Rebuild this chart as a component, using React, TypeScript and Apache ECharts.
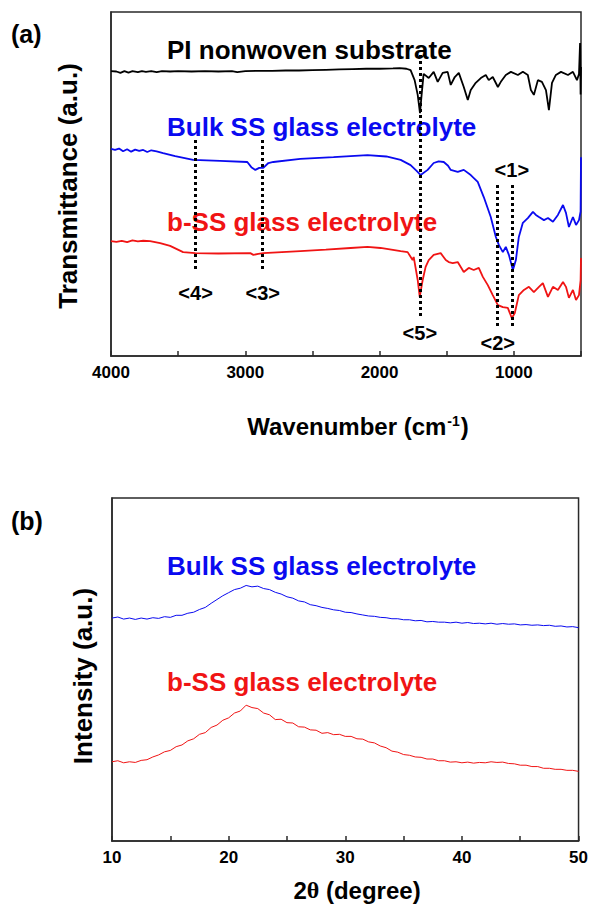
import React, { useEffect, useRef } from 'react';
import * as echarts from 'echarts';

// ---------- DATA ----------
// FTIR (a): [wavenumber (cm-1), transmittance (a.u.)]
const piSpectrum: [number, number][] = [
  [4000, 82.8], [3960, 82.7], [3930, 82.3], [3900, 82.8], [3870, 82.4], [3840, 82.8], [3800, 82.5],
  [3770, 82.8], [3740, 82.6], [3700, 82.8], [3660, 82.5], [3620, 82.8], [3560, 82.7], [3500, 82.8],
  [3400, 82.7], [3300, 82.8], [3200, 82.7], [3100, 82.8], [3060, 82.5], [3000, 82.8], [2900, 82.9],
  [2800, 82.9], [2700, 83.0], [2600, 83.0], [2500, 83.1], [2400, 83.2], [2300, 83.3], [2200, 83.4],
  [2100, 83.5], [2000, 83.5], [1900, 83.6], [1850, 83.7], [1800, 83.5], [1769, 83.1], [1739, 80.2],
  [1716, 75.9], [1699, 70.6], [1687, 75.9], [1672, 82.0], [1634, 80.8], [1597, 82.6], [1567, 79.7],
  [1530, 82.3], [1493, 82.6], [1470, 78.8], [1440, 81.1], [1410, 82.3], [1373, 78.2], [1343, 74.4],
  [1321, 77.3], [1284, 79.4], [1246, 80.8], [1209, 81.7], [1187, 80.2], [1157, 81.1], [1119, 78.2],
  [1097, 79.7], [1060, 81.7], [1022, 82.6], [970, 81.7], [933, 82.6], [896, 81.7], [873, 77.3],
  [851, 75.9], [821, 80.2], [791, 79.7], [761, 77.3], [739, 71.5], [716, 79.4], [687, 81.7],
  [649, 82.6], [597, 81.7], [560, 82.6], [530, 80.2], [515, 82.0], [507, 91.0], [503, 76.0], [500, 84.0],
];
const bulkSpectrum: [number, number][] = [
  [4000, 60.2], [3970, 59.9], [3940, 60.3], [3910, 59.5], [3880, 60.1], [3850, 59.4], [3820, 60.0],
  [3790, 59.6], [3760, 59.9], [3730, 59.3], [3700, 59.8], [3660, 59.5], [3612, 59.0], [3522, 58.1],
  [3388, 57.0], [3187, 56.7], [2985, 56.4], [2955, 54.9], [2925, 54.1], [2896, 54.7], [2866, 54.7],
  [2828, 56.1], [2791, 56.4], [2590, 57.3], [2343, 57.8], [2090, 58.4], [1950, 58.0], [1843, 57.0],
  [1769, 55.5], [1724, 53.8], [1694, 52.6], [1642, 54.1], [1597, 56.1], [1560, 56.6], [1522, 56.4],
  [1490, 55.3], [1470, 54.1], [1418, 53.5], [1373, 54.1], [1321, 52.6], [1269, 50.6], [1224, 46.2],
  [1172, 40.4], [1134, 34.6], [1112, 32.3], [1082, 30.2], [1060, 31.7], [1037, 29.4], [1007, 25.0],
  [985, 27.9], [963, 34.6], [933, 38.7], [896, 40.1], [858, 41.9], [836, 41.0], [813, 40.4],
  [776, 39.5], [746, 40.1], [709, 39.0], [672, 41.0], [634, 43.9], [612, 41.6], [590, 37.5],
  [560, 40.4], [537, 38.1], [515, 39.5], [503, 42.0], [500, 57.8],
];
const bssSpectrum: [number, number][] = [
  [4000, 33.4], [3960, 33.2], [3920, 33.5], [3880, 33.1], [3840, 33.6], [3800, 33.3], [3760, 33.5],
  [3709, 33.4], [3634, 32.8], [3560, 32.0], [3463, 30.2], [3373, 29.9], [3200, 29.8], [2963, 29.9],
  [2940, 29.4], [2903, 29.7], [2866, 29.9], [2590, 30.5], [2400, 30.9], [2216, 31.4], [2090, 31.7],
  [1993, 31.4], [1843, 30.5], [1791, 30.2], [1754, 27.9], [1746, 28.8], [1716, 22.1], [1701, 17.2],
  [1679, 22.1], [1657, 25.9], [1634, 27.9], [1597, 29.4], [1545, 29.9], [1507, 27.9], [1485, 27.3],
  [1455, 27.0], [1418, 27.3], [1373, 24.4], [1336, 25.6], [1299, 25.0], [1261, 25.6], [1231, 23.0],
  [1194, 20.6], [1157, 17.7], [1119, 14.8], [1082, 14.2], [1045, 14.0], [1015, 11.0], [993, 12.5],
  [963, 17.7], [925, 19.2], [888, 20.1], [851, 18.6], [813, 20.1], [784, 21.2], [746, 17.2],
  [709, 20.1], [672, 19.2], [634, 21.5], [612, 20.1], [590, 16.9], [560, 19.2], [537, 16.3],
  [515, 17.7], [503, 22.0], [500, 28.5],
];

// XRD (b): [2theta (degree), intensity (a.u.)]
const bulkXrd: [number, number][] = [
  [10, 65.0], [10.5, 65.3], [11, 64.7], [11.5, 65.0], [12, 64.6], [12.5, 65.0], [13, 64.7], [13.5, 65.1],
  [14, 64.9], [14.5, 65.4], [15, 65.2], [15.5, 65.8], [16, 65.8], [16.5, 66.4], [17, 66.7], [17.5, 67.5],
  [18, 68.1], [18.5, 69.3], [19, 70.4], [19.5, 71.5], [20, 72.4], [20.5, 73.3], [21, 73.7], [21.5, 74.5],
  [22, 74.1], [22.5, 74.3], [23, 73.6], [23.5, 73.3], [24, 72.5], [24.5, 72.0], [25, 71.2], [25.5, 70.8],
  [26, 70.0], [26.5, 69.7], [27, 68.9], [27.5, 68.6], [28, 68.1], [28.5, 67.8], [29, 67.4], [29.5, 67.2],
  [30, 66.7], [30.5, 66.6], [31, 66.2], [31.5, 65.9], [32, 65.6], [32.5, 65.5], [33, 65.2], [33.5, 65.1],
  [34, 64.8], [34.5, 64.8], [35, 64.5], [35.5, 64.5], [36, 64.2], [36.5, 64.3], [37, 63.9], [37.5, 64.0],
  [38, 63.8], [38.5, 63.8], [39, 63.6], [39.5, 63.8], [40, 63.5], [40.5, 63.7], [41, 63.4], [41.5, 63.5],
  [42, 63.3], [42.5, 63.5], [43, 63.2], [43.5, 63.4], [44, 63.2], [44.5, 63.3], [45, 63.0], [45.5, 63.1],
  [46, 62.9], [46.5, 63.0], [47, 62.8], [47.5, 62.9], [48, 62.6], [48.5, 62.7], [49, 62.4], [49.5, 62.5],
  [50, 62.2],
];
const bssXrd: [number, number][] = [
  [10, 23.1], [10.5, 23.4], [11, 22.8], [11.5, 23.1], [12, 22.9], [12.5, 23.5], [13, 23.7], [13.5, 24.5],
  [14, 25.1], [14.5, 26.0], [15, 26.4], [15.5, 27.5], [16, 28.0], [16.5, 29.2], [17, 29.8], [17.5, 31.1],
  [18, 31.6], [18.5, 33.1], [19, 33.8], [19.5, 35.2], [20, 35.9], [20.5, 37.3], [21, 37.9], [21.5, 39.6],
  [22, 38.9], [22.5, 38.6], [23, 37.3], [23.5, 36.8], [24, 35.4], [24.5, 35.5], [25, 34.5], [25.5, 34.4],
  [26, 33.3], [26.5, 33.2], [27, 32.4], [27.5, 32.3], [28, 31.4], [28.5, 31.6], [29, 31.0], [29.5, 31.1],
  [30, 30.5], [30.5, 30.5], [31, 29.8], [31.5, 29.7], [32, 28.9], [32.5, 28.6], [33, 27.7], [33.5, 27.2],
  [34, 26.2], [34.5, 25.9], [35, 25.2], [35.5, 25.0], [36, 24.5], [36.5, 24.4], [37, 23.9], [37.5, 23.9],
  [38, 23.4], [38.5, 23.4], [39, 23.0], [39.5, 23.1], [40, 22.8], [40.5, 23.0], [41, 22.7], [41.5, 22.9],
  [42, 22.8], [42.5, 23.1], [43, 22.9], [43.5, 23.0], [44, 22.6], [44.5, 22.5], [45, 22.1], [45.5, 22.1],
  [46, 21.7], [46.5, 21.7], [47, 21.2], [47.5, 21.2], [48, 20.9], [48.5, 20.9], [49, 20.6], [49.5, 20.6],
  [50, 20.3],
];

// Band assignments marked in (a)
const bandLabels = ['<1>', '<2>', '<3>', '<4>', '<5>'];
const bandWavenumbers = [1015, 1120, 2870, 3370, 1700];
const bandTop = [49.7, 49.7, 62.8, 62.8, 87.5];
const bandBottom = [8.4, 8.4, 25.0, 25.0, 11.3];

const ftirTicks = [4000, 3000, 2000, 1000];
const xrdTicks = [10, 20, 30, 40, 50];

// ---------- STYLE ----------
const FONT = '"Liberation Sans", Arial, Helvetica, sans-serif';
const BLUE = '#0a0af0';
const RED = '#f01414';
const AXIS = '#2a2a2a';

const labelSide = ['start', 'end', 'end', 'end', 'end'];
const labelGap = [5, 6, 13, 13, 6];

function axisCommon() {
  return {
    axisLine: { show: true, onZero: false, lineStyle: { color: AXIS, width: 1.5 } },
    splitLine: { show: false },
  };
}

const textStyle = (text: string, fill: string, fontSize: number) => ({
  text, fill, fontSize, fontWeight: 'bold', fontFamily: FONT, align: 'left', verticalAlign: 'middle',
});

const option: any = {
  animation: false,
  backgroundColor: '#ffffff',
  grid: [
    { left: 111, top: 12, width: 470, height: 344, show: true, borderColor: AXIS, borderWidth: 1.5 },
    { left: 112, top: 498, width: 469, height: 343, show: true, borderColor: AXIS, borderWidth: 1.5 },
  ],
  xAxis: [
    {
      gridIndex: 0, type: 'value', min: 500, max: 4000, interval: 500, inverse: true,
      ...axisCommon(),
      axisTick: { show: true, inside: true, length: 5, lineStyle: { color: AXIS, width: 1.5 } },
      axisLabel: {
        margin: 8, color: '#000', fontSize: 17, fontWeight: 'bold', fontFamily: FONT,
        formatter: (v: number) => (ftirTicks.includes(v) ? String(v) : ''),
      },
    },
    {
      gridIndex: 1, type: 'value', min: 10, max: 50, interval: 5,
      ...axisCommon(),
      axisTick: { show: true, inside: true, length: 5, lineStyle: { color: AXIS, width: 1.5 } },
      axisLabel: {
        margin: 8, color: '#000', fontSize: 17, fontWeight: 'bold', fontFamily: FONT,
        formatter: (v: number) => (xrdTicks.includes(v) ? String(v) : ''),
      },
    },
  ],
  yAxis: [
    { gridIndex: 0, type: 'value', min: 0, max: 100, ...axisCommon(), axisTick: { show: false }, axisLabel: { show: false } },
    { gridIndex: 1, type: 'value', min: 0, max: 100, ...axisCommon(), axisTick: { show: false }, axisLabel: { show: false } },
  ],
  series: [
    {
      type: 'line', xAxisIndex: 0, yAxisIndex: 0, data: piSpectrum, symbol: 'none', z: 3,
      lineStyle: { color: '#000', width: 1.8 },
      markLine: {
        silent: true, symbol: ['none', 'none'], z: 5,
        lineStyle: { color: '#000', width: 3, type: [3, 3] },
        data: bandLabels.map((txt, i) => [
          {
            coord: [bandWavenumbers[i], bandTop[i]],
            label: {
              show: true, position: labelSide[i], distance: labelGap[i], formatter: txt,
              color: '#000', fontSize: 20, fontWeight: 'bold', fontFamily: FONT,
            },
            lineStyle: { color: '#000', width: 3, type: [3, 3] },
          },
          { coord: [bandWavenumbers[i], bandBottom[i]] },
        ]),
      },
    },
    { type: 'line', xAxisIndex: 0, yAxisIndex: 0, data: bulkSpectrum, symbol: 'none', lineStyle: { color: BLUE, width: 1.8 } },
    { type: 'line', xAxisIndex: 0, yAxisIndex: 0, data: bssSpectrum, symbol: 'none', lineStyle: { color: RED, width: 1.8 } },
    { type: 'line', xAxisIndex: 1, yAxisIndex: 1, data: bulkXrd, symbol: 'none', lineStyle: { color: BLUE, width: 1 } },
    { type: 'line', xAxisIndex: 1, yAxisIndex: 1, data: bssXrd, symbol: 'none', lineStyle: { color: RED, width: 1 } },
  ],
  graphic: [
    { type: 'text', x: 11, y: 34, style: textStyle('(a)', '#000', 25) },
    { type: 'text', x: 11, y: 521, style: textStyle('(b)', '#000', 25) },
    { type: 'text', x: 167, y: 50, style: textStyle('PI nonwoven substrate', '#000', 26) },
    { type: 'text', x: 167, y: 127, style: textStyle('Bulk SS glass electrolyte', BLUE, 26) },
    { type: 'text', x: 167, y: 222, style: textStyle('b-SS glass electrolyte', RED, 26) },
    { type: 'text', x: 167, y: 566, style: textStyle('Bulk SS glass electrolyte', BLUE, 26) },
    { type: 'text', x: 167, y: 682, style: textStyle('b-SS glass electrolyte', RED, 26) },
    {
      type: 'text', x: 68, y: 186, rotation: Math.PI / 2,
      style: { ...textStyle('Transmittance (a.u.)', '#000', 26), align: 'center' },
    },
    {
      type: 'text', x: 83, y: 676, rotation: Math.PI / 2,
      style: { ...textStyle('Intensity (a.u.)', '#000', 26), align: 'center' },
    },
    {
      type: 'text', x: 358, y: 426,
      style: {
        text: '{n|Wavenumber (cm}{s|-1}{n|)}', align: 'center', verticalAlign: 'middle',
        rich: {
          n: { fontSize: 24, fontWeight: 'bold', fontFamily: FONT, fill: '#000', color: '#000' },
          s: { fontSize: 14, fontWeight: 'bold', fontFamily: FONT, fill: '#000', color: '#000', verticalAlign: 'top', padding: [0, 1, 10, 1] },
        },
      },
    },
    {
      type: 'text', x: 357, y: 890,
      style: {
        text: '{n|2}{t|θ}{n| (degree)}', align: 'center', verticalAlign: 'middle',
        rich: {
          n: { fontSize: 24, fontWeight: 'bold', fontFamily: FONT, fill: '#000', color: '#000' },
          t: { fontSize: 24, fontWeight: 'bold', fontFamily: '"Liberation Serif", "DejaVu Serif", serif', fill: '#000', color: '#000' },
        },
      },
    },
  ],
};

export default function App() {
  const ref = useRef<HTMLDivElement>(null);
  useEffect(() => {
    const chart = echarts.init(ref.current as HTMLDivElement, null, { renderer: 'svg' });
    chart.setOption(option);
    return () => chart.dispose();
  }, []);
  return (
    <div
      ref={ref}
      style={{ position: 'absolute', left: 0, top: 0, width: 591, height: 907, background: '#fff' }}
    />
  );
}
